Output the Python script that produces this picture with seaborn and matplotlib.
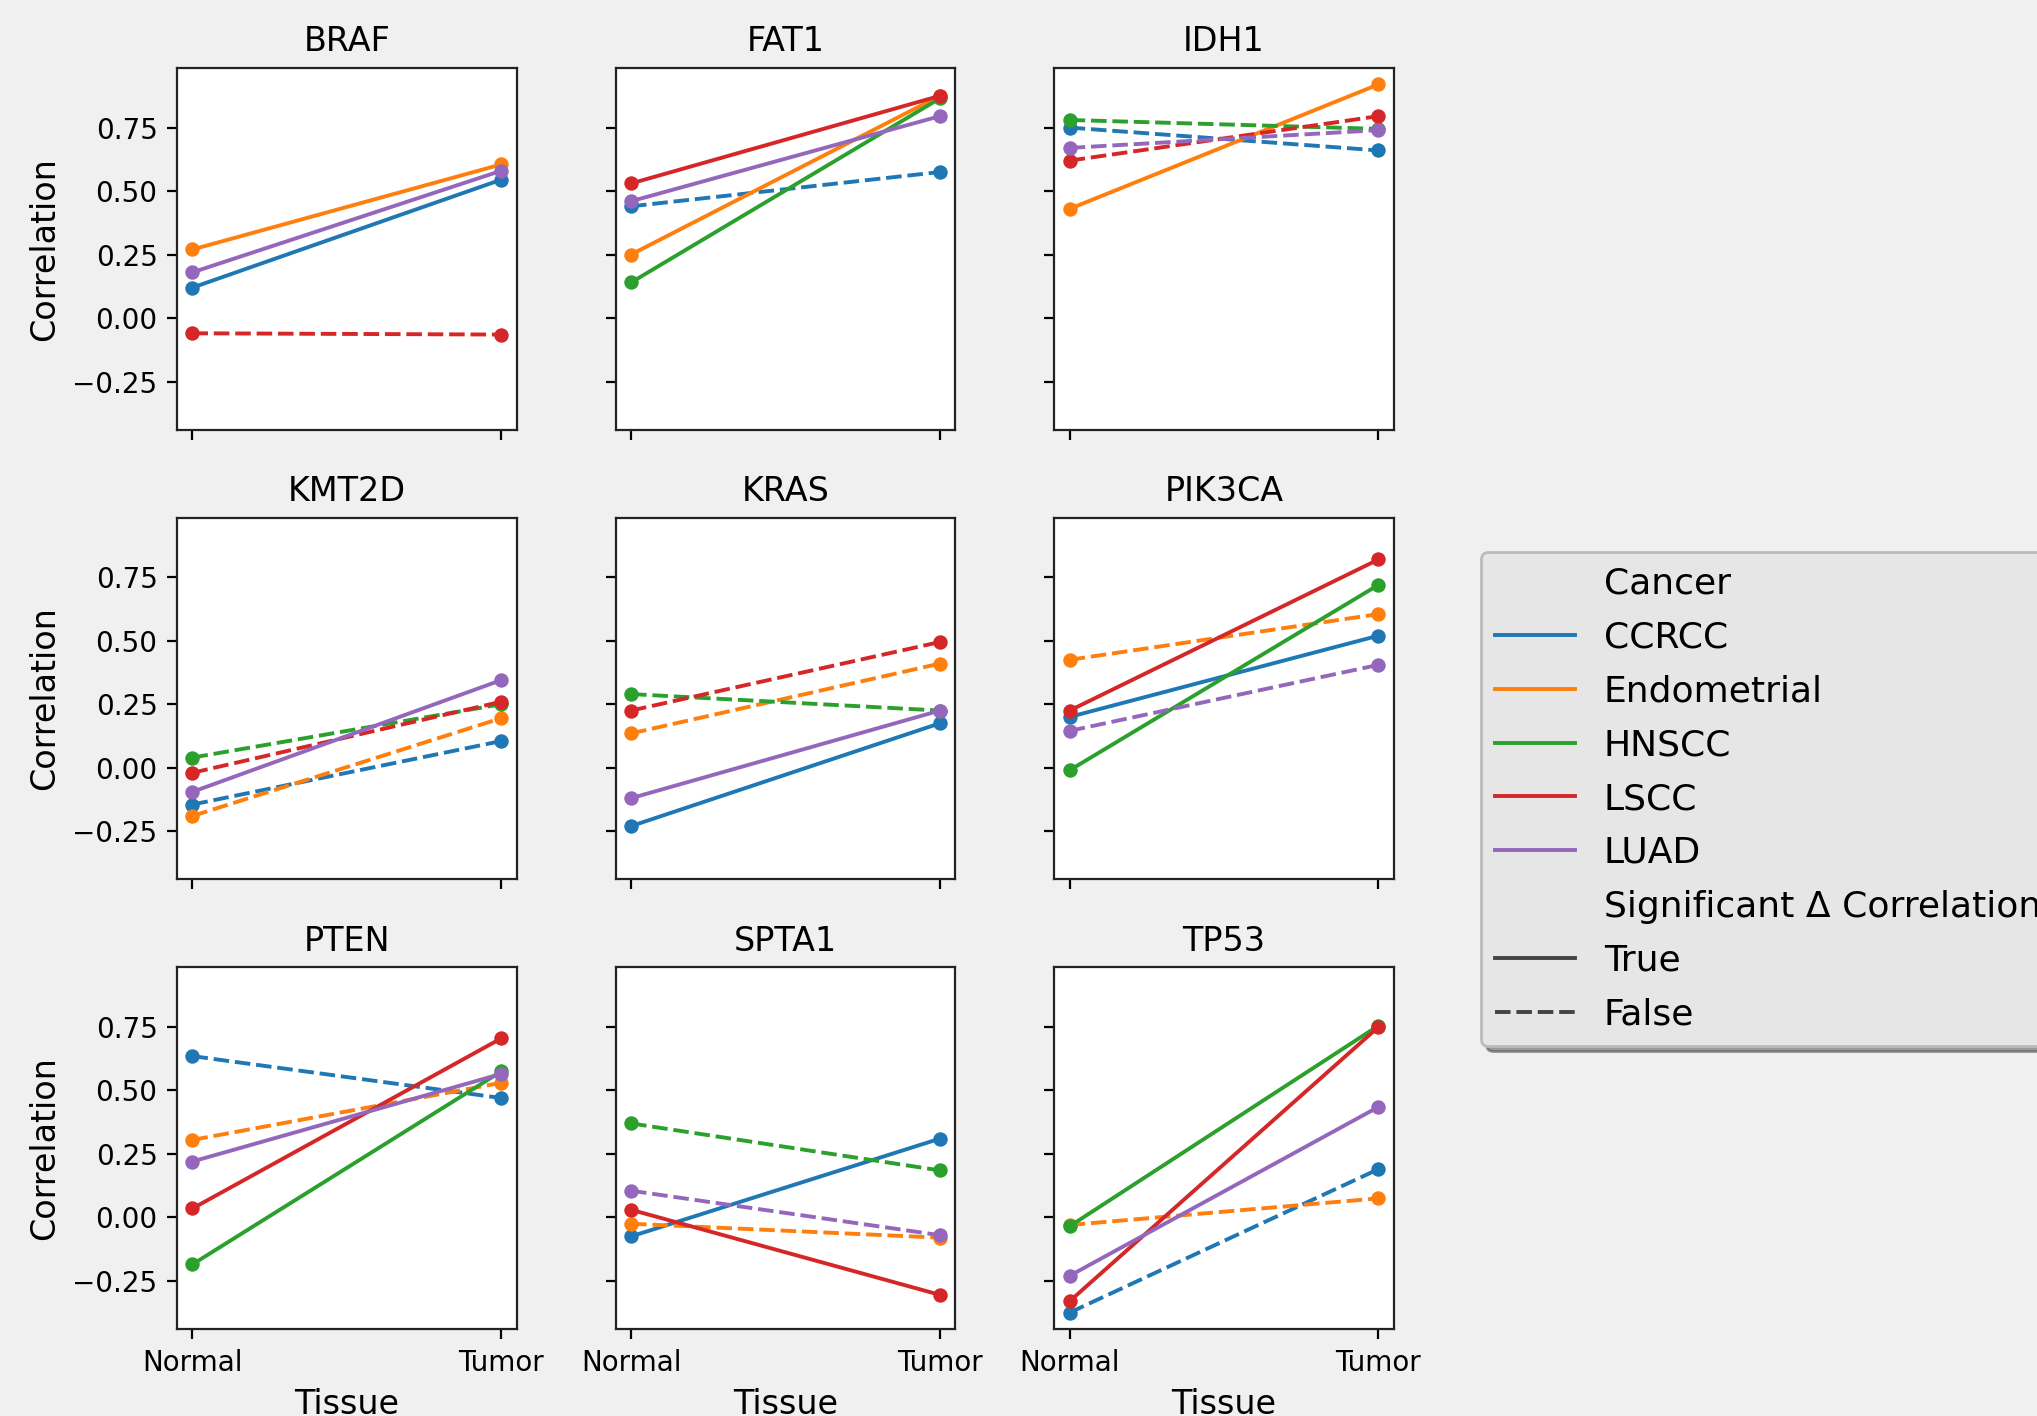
import numpy as np
import pandas as pd
import seaborn as sns
import matplotlib.pyplot as plt
from matplotlib.lines import Line2D

genes = ['BRAF', 'FAT1', 'IDH1', 'KMT2D', 'KRAS', 'PIK3CA', 'PTEN', 'SPTA1', 'TP53']
cancers = ['CCRCC', 'Endometrial', 'HNSCC', 'LSCC', 'LUAD']
tissues = ['Normal', 'Tumor']

# rows follow genes, columns follow cancers
normal_corr = [
    [0.12, 0.27, np.nan, -0.06, 0.18],      # BRAF
    [0.44, 0.25, 0.14, 0.53, 0.46],         # FAT1
    [0.75, 0.43, 0.78, 0.62, 0.67],         # IDH1
    [-0.145, -0.19, 0.04, -0.02, -0.095],   # KMT2D
    [-0.23, 0.135, 0.29, 0.225, -0.12],     # KRAS
    [0.20, 0.425, -0.01, 0.225, 0.145],     # PIK3CA
    [0.635, 0.305, -0.185, 0.035, 0.22],    # PTEN
    [-0.075, -0.025, 0.37, 0.03, 0.105],    # SPTA1
    [-0.375, -0.03, -0.035, -0.33, -0.23],  # TP53
]
tumor_corr = [
    [0.545, 0.605, np.nan, -0.065, 0.58],
    [0.575, 0.875, 0.865, 0.875, 0.795],
    [0.66, 0.92, 0.745, 0.795, 0.74],
    [0.105, 0.195, 0.25, 0.26, 0.345],
    [0.175, 0.41, 0.225, 0.495, 0.225],
    [0.52, 0.605, 0.72, 0.82, 0.405],
    [0.47, 0.53, 0.575, 0.705, 0.565],
    [0.31, -0.08, 0.185, -0.305, -0.07],
    [0.19, 0.075, 0.755, 0.75, 0.435],
]
significant = [
    [True, True, True, False, True],
    [False, True, True, True, True],
    [False, True, False, False, False],
    [False, False, False, False, True],
    [True, False, False, False, True],
    [True, False, True, True, False],
    [False, False, True, True, True],
    [True, False, False, True, False],
    [False, False, True, True, True],
]

sig_col = 'Significant \u0394 Correlation'
rows = []
for gi, gene in enumerate(genes):
    for ci, cancer in enumerate(cancers):
        for tissue, vals in zip(tissues, [normal_corr, tumor_corr]):
            v = vals[gi][ci]
            if np.isnan(v):
                continue
            rows.append({'Gene': gene, 'Cancer': cancer, 'Tissue': tissue,
                         'Correlation': v, sig_col: significant[gi][ci]})
df = pd.DataFrame(rows)

palette = sns.color_palette('tab10', len(cancers))

g = sns.relplot(data=df, x='Tissue', y='Correlation', hue='Cancer', hue_order=cancers,
                style=sig_col, style_order=[True, False], col='Gene', col_order=genes,
                col_wrap=3, kind='line', marker='o', markersize=5.2, linewidth=1.4,
                markeredgewidth=0, palette=palette, legend=False,
                facet_kws={'despine': False, 'sharey': True, 'sharex': True})

fig = g.figure
fig.set_size_inches(10.185, 7.08)
fig.set_facecolor('#f0f0f0')
fig.subplots_adjust(left=0.0869, right=0.6843, top=0.952, bottom=0.0614,
                    wspace=0.291, hspace=0.243)

g.set_titles('{col_name}', size=12)
g.set_axis_labels('Tissue', 'Correlation', fontsize=12)
for ax in g.axes.flat:
    ax.set_facecolor('white')
    ax.tick_params(labelsize=10)
    ax.set_xlim(-0.05, 1.05)
    for s in ax.spines.values():
        s.set_color('#222222')
        s.set_linewidth(0.8)
g.set(yticks=[-0.25, 0, 0.25, 0.5, 0.75])

# legend with subtitle rows, like seaborn's own
blank = Line2D([], [], linestyle='none')
handles = [blank] + [Line2D([], [], color=c, lw=1.4) for c in palette]
labels = ['Cancer'] + cancers
handles += [blank, Line2D([], [], color='#444444', lw=1.4),
            Line2D([], [], color='#444444', lw=1.4, dashes=(4, 1.5))]
labels += [sig_col, 'True', 'False']
fig.legend(handles, labels, loc='upper left', bbox_to_anchor=(0.727, 0.61),
           borderaxespad=0, fontsize=13, frameon=True, facecolor='#e6e6e6',
           edgecolor='#bbbbbb', shadow=True, framealpha=1, handlelength=2.2,
           labelspacing=0.55)

fig.savefig('out.png', dpi=200)
